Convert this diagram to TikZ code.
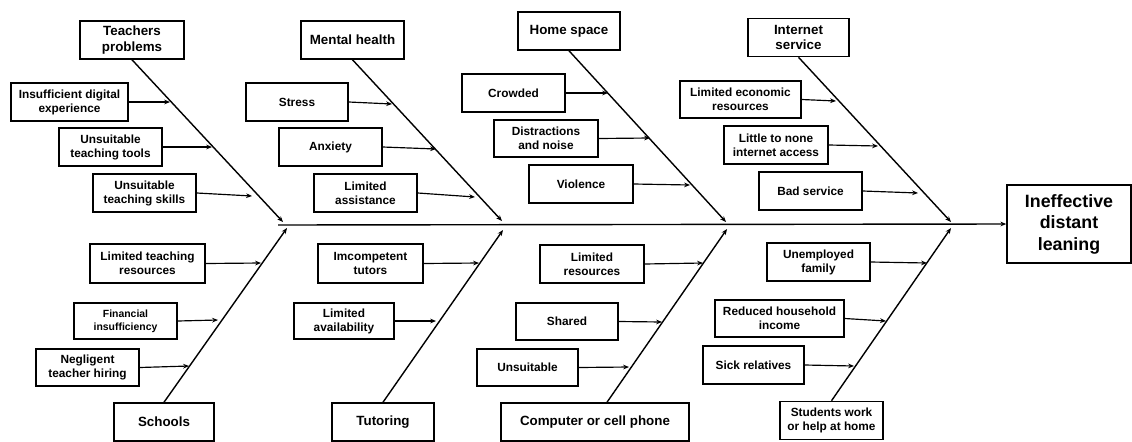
\documentclass[tikz,border=0pt]{standalone}
\usepackage{fontspec}
\setmainfont{Liberation Sans}
\usetikzlibrary{arrows.meta}
\begin{document}
\begin{tikzpicture}[x=0.03cm, y=-0.03cm, >={Stealth[length=5pt,width=4pt]}, every node/.style={font=\bfseries},box/.style={draw,line width=1.3pt,align=center,inner sep=1pt,minimum height=1.14cm},cause/.style={box,font=\bfseries\fontsize{11.4}{13.2}\selectfont},sub/.style={box,font=\bfseries\fontsize{10.1}{12}\selectfont},effect/.style={box,font=\bfseries\fontsize{15.2}{18.4}\selectfont,minimum width=3.72cm,minimum height=2.34cm},bone/.style={->,line width=1.2pt},twig/.style={->,line width=1pt},]
\useasboundingbox (0,0) rectangle (1132,441);
\node[cause, minimum width=3.12cm] (tp) at (132,40) {Teachers\\problems};
\node[cause, minimum width=3.09cm] (mh) at (352.5,40) {Mental health};
\node[cause, minimum width=3.06cm] (hs) at (569,31) {Home space};
\node[cause, minimum width=3.03cm] (is) at (798.5,37.5) {Internet\\service};
\node[cause, minimum width=3.0cm] (sc) at (164,422) {Schools};
\node[cause, minimum width=3.06cm] (tu) at (383,422) {Tutoring};
\node[cause, minimum width=5.64cm] (cp) at (595,422) {Computer or cell phone};
\node[cause, minimum width=3.09cm, font=\bfseries\fontsize{10.1}{12}\selectfont] (sw) at (831.5,420.5) {Students work\\or help at home};
\node[effect] (ef) at (1069,224) {Ineffective\\distant\\leaning};
\node[sub, minimum width=3.51cm] (t1) at (69.5,102) {Insufficient digital\\experience};
\node[sub, minimum width=3.09cm] (t2) at (110.5,147) {Unsuitable\\teaching tools};
\node[sub, minimum width=3.09cm] (t3) at (144.5,193) {Unsuitable\\teaching skills};
\node[sub, minimum width=3.06cm] (m1) at (297,102) {Stress};
\node[sub, minimum width=3.09cm] (m2) at (330.5,147) {Anxiety};
\node[sub, minimum width=3.09cm] (m3) at (365.5,193) {Limited\\assistance};
\node[sub, minimum width=3.09cm] (h1) at (513.5,93) {Crowded};
\node[sub, minimum width=3.12cm, minimum height=1.11cm] (h2) at (546,138.5) {Distractions\\and noise};
\node[sub, minimum width=3.12cm] (h3) at (581,184) {Violence};
\node[sub, minimum width=3.63cm, minimum height=1.11cm] (i1) at (740.5,99.5) {Limited economic\\resources};
\node[sub, minimum width=3.12cm] (i2) at (776,145) {Little to none\\internet access};
\node[sub, minimum width=3.09cm] (i3) at (810.5,191) {Bad service};
\node[sub, minimum width=3.45cm, minimum height=1.17cm] (s1) at (147.5,263.5) {Limited teaching\\resources};
\node[sub, minimum width=3.09cm, minimum height=1.08cm, font=\bfseries\fontsize{8.9}{11}\selectfont] (s2) at (125.5,321) {Financial\\insufficiency};
\node[sub, minimum width=3.09cm, minimum height=1.11cm] (s3) at (87.5,367.5) {Negligent\\teacher hiring};
\node[sub, minimum width=3.15cm, minimum height=1.17cm] (u1) at (370.5,263.5) {Imcompetent\\tutors};
\node[sub, minimum width=3.0cm, minimum height=1.08cm] (u2) at (344,321) {Limited\\availability};
\node[sub, minimum width=3.12cm] (c1) at (592,264) {Limited\\resources};
\node[sub, minimum width=3.06cm, minimum height=1.11cm] (c2) at (567,321.5) {Shared};
\node[sub, minimum width=3.03cm, minimum height=1.11cm] (c3) at (527.5,367.5) {Unsuitable};
\node[sub, minimum width=3.09cm] (w1) at (818.5,262) {Unemployed\\family};
\node[sub, minimum width=3.87cm, minimum height=1.11cm] (w2) at (779.5,318.5) {Reduced household\\income};
\node[sub, minimum width=3.03cm] (w3) at (753.5,365) {Sick relatives};
\coordinate (sp) at (278,225);
\coordinate (p1) at (283,222);
\coordinate (p2) at (287,228);
\coordinate (p3) at (502,221);
\coordinate (p4) at (503,230);
\coordinate (p5) at (726,222);
\coordinate (p6) at (727,229);
\coordinate (p7) at (951,222);
\coordinate (p8) at (951,228);
\coordinate (a1) at (170,102);
\coordinate (a2) at (212,147);
\coordinate (a3) at (252,196);
\coordinate (b1) at (392,104);
\coordinate (b2) at (436,149);
\coordinate (b3) at (475,197);
\coordinate (d1) at (608,93);
\coordinate (d2) at (650,138);
\coordinate (d3) at (690,185);
\coordinate (e1) at (836,101);
\coordinate (e2) at (878,146);
\coordinate (e3) at (918,193);
\coordinate (f1) at (261,263);
\coordinate (f2) at (218,320);
\coordinate (f3) at (189,366);
\coordinate (g1) at (479,263);
\coordinate (g2) at (436,321);
\coordinate (k1) at (703,263);
\coordinate (k2) at (662,322);
\coordinate (k3) at (629,367);
\coordinate (q1) at (927,263);
\coordinate (q2) at (886,321);
\coordinate (q3) at (854,366);
\draw[bone] (sp) -- (ef.west);
\draw[bone] (tp.south) -- (p1);
\draw[bone] (sc.north) -- (p2);
\draw[bone] (mh.south) -- (p3);
\draw[bone] (tu.north) -- (p4);
\draw[bone] (hs.south) -- (p5);
\draw[bone] ([xshift=0.36cm]cp.north) -- (p6);
\draw[bone] (is.south) -- (p7);
\draw[bone] (sw.north) -- (p8);
\draw[twig] (t1.east) -- (a1);
\draw[twig] (t2.east) -- (a2);
\draw[twig] (t3.east) -- (a3);
\draw[twig] (m1.east) -- (b1);
\draw[twig] (m2.east) -- (b2);
\draw[twig] (m3.east) -- (b3);
\draw[twig] (h1.east) -- (d1);
\draw[twig] (h2.east) -- (d2);
\draw[twig] (h3.east) -- (d3);
\draw[twig] (i1.east) -- (e1);
\draw[twig] (i2.east) -- (e2);
\draw[twig] (i3.east) -- (e3);
\draw[twig] (s1.east) -- (f1);
\draw[twig] (s2.east) -- (f2);
\draw[twig] (s3.east) -- (f3);
\draw[twig] (u1.east) -- (g1);
\draw[twig] (u2.east) -- (g2);
\draw[twig] (c1.east) -- (k1);
\draw[twig] (c2.east) -- (k2);
\draw[twig] (c3.east) -- (k3);
\draw[twig] (w1.east) -- (q1);
\draw[twig] (w2.east) -- (q2);
\draw[twig] (w3.east) -- (q3);
\end{tikzpicture}
\end{document}
